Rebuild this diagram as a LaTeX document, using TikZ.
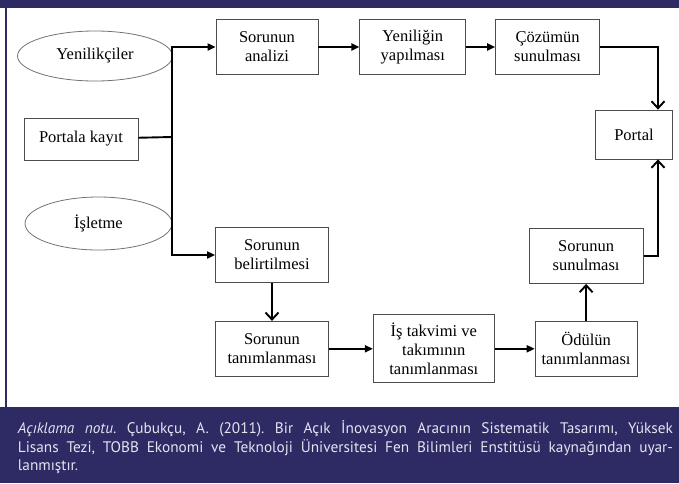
\documentclass[tikz,border=0pt]{standalone}
\usepackage{fontspec}
\setmainfont{Liberation Serif}
\newfontfamily\notefont{PT Sans}
\usetikzlibrary{arrows.meta,positioning,shapes.geometric}
\definecolor{navy}{RGB}{45,42,100}
\definecolor{notetext}{RGB}{228,228,240}

\begin{document}
\begin{tikzpicture}[x=1pt,y=-1pt,->,>={Triangle[length=8pt,width=7pt]},line width=1.9pt,
box node/.style={rectangle,draw=black!70,line width=0.8pt,align=center,inner sep=2pt,
  minimum width=104pt,minimum height=55pt,font=\fontsize{16.5}{19}\selectfont},
oval node/.style={ellipse,draw=black!55,line width=0.8pt,inner sep=0pt,font=\fontsize{16.5}{19}\selectfont},
open tip/.style={-{Straight Barb[length=7pt,width=13pt]}}]
\useasboundingbox (0,0) rectangle (679,483);
\fill[white] (0,0) rectangle (679,483);
\fill[navy] (0,0) rectangle (679,8);
\fill[navy] (0,407) rectangle (679,483);
\draw[-,navy,line width=1.5pt] (6,8) -- (6,407);

\node[oval node,minimum width=155pt,minimum height=50pt] (yenilikci) at (95,56) {Yenilikçiler};
\node[box node,minimum width=114pt,minimum height=42pt] (kayit) at (81,139) {Portala kayıt};
\node[oval node,minimum width=147pt,minimum height=53pt] (isletme) at (98.5,223.5) {İşletme};

\node[box node,minimum width=102pt] (analiz) at (267,47) {Sorunun\\analizi};
\node[box node,minimum width=106pt] (yenilik) [right=41pt of analiz] {Yeniliğin\\yapılması};
\node[box node] (cozum) [right=29pt of yenilik] {Çözümün\\sunulması};
\node[box node,minimum width=77pt,minimum height=49pt] (portal) at (634,134.5) {Portal};

\node[box node,minimum width=113pt] (belirt) at (272,255) {Sorunun\\belirtilmesi};
\node[box node,minimum width=113pt] (tanim) [below=38pt of belirt] {Sorunun\\tanımlanması};
\node[box node,minimum width=121pt,minimum height=68pt] (takvim) [right=44pt of tanim] {İş takvimi ve\\takımının\\tanımlanması};
\node[box node,minimum width=102pt] (odul) [right=40pt of takvim] {Ödülün\\tanımlanması};
\node[box node,minimum width=114pt] (sunul) [above=37pt of odul] {Sorunun\\sunulması};

\coordinate (trunk) at (172,137);
\draw[-] (kayit) -- (trunk);
\draw (trunk) |- (analiz);
\draw (trunk) |- (belirt);
\path (analiz) edge (yenilik)
(yenilik) edge (cozum)
(tanim) edge (takvim)
(takvim) edge (odul);
\draw[open tip] (cozum.east) -| ([xshift=24pt]portal.north);
\draw[open tip] (sunul.east) -| ([xshift=24pt]portal.south);
\draw[open tip] (belirt) -- (tanim);
\draw[open tip] (odul) -- (sunul);

\node[anchor=north west,inner sep=0pt,text width=655pt,align=justify,text=notetext,
font=\notefont\frenchspacing\fontsize{15.3}{18.5}\selectfont] (note) at (17,420)
{{\itshape Açıklama notu}. Çubukçu, A. (2011). Bir Açık İnovasyon Aracının Sistematik Tasarımı, Yüksek\linebreak
Lisans Tezi, TOBB Ekonomi ve Teknoloji Üniversitesi Fen Bilimleri Enstitüsü kaynağından uyar-\linebreak
lanmıştır.};
\end{tikzpicture}
\end{document}
